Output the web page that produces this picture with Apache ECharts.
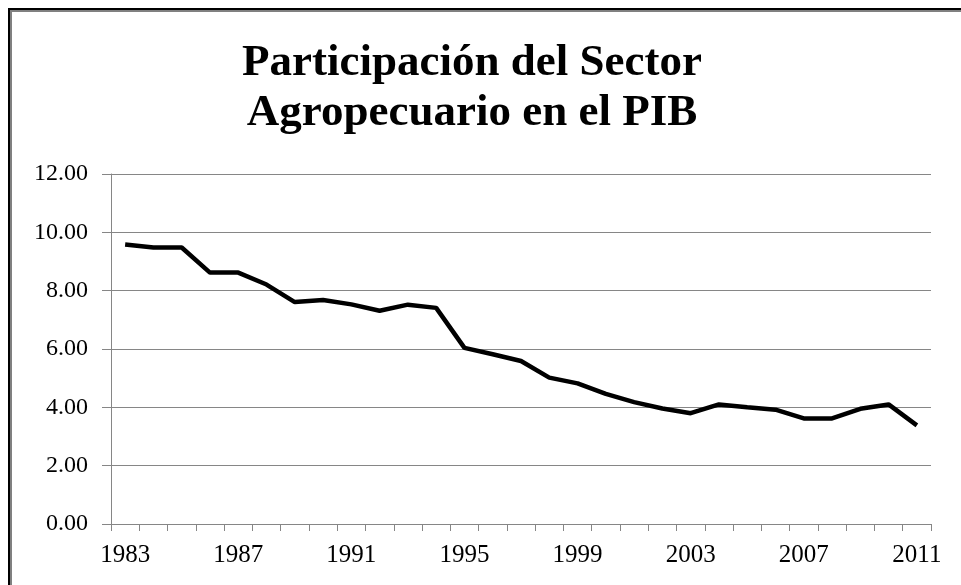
<!DOCTYPE html>
<html>
<head>
<meta charset="utf-8">
<title>Participación del Sector Agropecuario en el PIB</title>
<script src="https://cdn.jsdelivr.net/npm/echarts@6/dist/echarts.min.js"></script>
<style>
    html, body{
        margin: 0;
        padding: 0;
        background-color: #ffffff;
    }
    #chart{
        width: 961px;
        height: 585px;
    }
</style>
</head>
<body>
<div id="chart"></div>
<script>
// years on the x axis
var years = ['1983','1984','1985','1986','1987','1988','1989','1990','1991','1992',
             '1993','1994','1995','1996','1997','1998','1999','2000','2001','2002',
             '2003','2004','2005','2006','2007','2008','2009','2010','2011'];

// share of agriculture in GDP (%)
var participacion = [9.58, 9.48, 9.48, 8.62, 8.62, 8.21, 7.61, 7.68, 7.53, 7.31,
                     7.52, 7.41, 6.04, 5.82, 5.59, 5.02, 4.82, 4.46, 4.18, 3.96,
                     3.80, 4.10, 4.00, 3.92, 3.62, 3.62, 3.95, 4.10, 3.38];

var titleLines = ['Participación del Sector', 'Agropecuario en el PIB'];

var chart = echarts.init(document.getElementById('chart'));

chart.setOption({
    animation: false,
    title: {
        text: titleLines.join('\n'),
        left: 467,
        top: 33,
        textAlign: 'center',
        textStyle: {
            fontFamily: 'Liberation Serif',
            fontWeight: 'bold',
            fontSize: 45,
            lineHeight: 50,
            color: '#000'
        }
    },
    // frame of the chart area (top and left edges only)
    graphic: [
        {type: 'line', shape: {x1: 8, y1: 9, x2: 961, y2: 9}, style: {stroke: '#000', lineWidth: 2}},
        {type: 'line', shape: {x1: 10, y1: 11, x2: 961, y2: 11}, style: {stroke: '#808080', lineWidth: 2}},
        {type: 'line', shape: {x1: 9, y1: 8, x2: 9, y2: 585}, style: {stroke: '#000', lineWidth: 2}},
        {type: 'line', shape: {x1: 11, y1: 10, x2: 11, y2: 585}, style: {stroke: '#808080', lineWidth: 2}}
    ],
    grid: {
        left: 111,
        right: 30,
        top: 174,
        bottom: 61
    },
    xAxis: {
        type: 'category',
        data: years,
        boundaryGap: true,
        axisLine: {lineStyle: {color: '#868686', width: 1}},
        axisTick: {
            show: true,
            interval: 0,
            length: 7,
            lineStyle: {color: '#868686'}
        },
        axisLabel: {
            interval: 3,
            margin: 19,
            fontFamily: 'Liberation Serif',
            fontSize: 25,
            color: '#000'
        },
        splitLine: {show: false}
    },
    yAxis: {
        type: 'value',
        min: 0,
        max: 12,
        interval: 2,
        axisLine: {show: true, lineStyle: {color: '#868686', width: 1}},
        axisTick: {show: true, length: 9, lineStyle: {color: '#868686'}},
        axisLabel: {
            margin: 23,
            fontFamily: 'Liberation Serif',
            fontSize: 24,
            color: '#000',
            formatter: function(v){ return v.toFixed(2); }
        },
        splitLine: {lineStyle: {color: '#868686', width: 1}}
    },
    series: [
        {
            name: 'Participación',
            type: 'line',
            data: participacion,
            showSymbol: false,
            lineStyle: {color: '#000', width: 4.5},
            itemStyle: {color: '#000'}
        }
    ]
});
</script>
</body>
</html>
